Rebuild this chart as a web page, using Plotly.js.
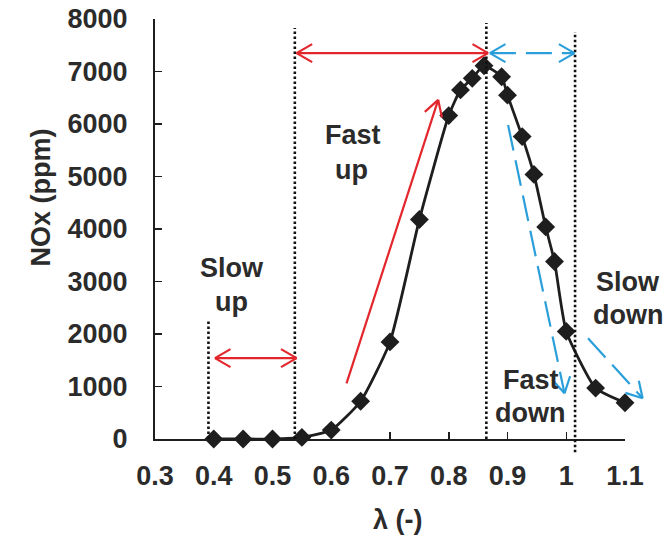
<!DOCTYPE html>
<html><head><meta charset="utf-8">
<script src="https://cdn.plot.ly/plotly-3.0.1.min.js"></script>
<style>html,body{margin:0;padding:0;background:#fff}</style>
</head><body><div id="chart" style="width:669px;height:537px"></div>
<script>
// ---- data ----
const lambda = [0.40, 0.45, 0.50, 0.55, 0.60, 0.65, 0.70, 0.75, 0.80, 0.82, 0.84, 0.86, 0.89, 0.90, 0.925, 0.945, 0.965, 0.98, 1.00, 1.05, 1.10];
const nox    = [0, 0, 0, 30, 170, 720, 1850, 4180, 6160, 6650, 6870, 7110, 6900, 6550, 5760, 5040, 4040, 3380, 2050, 970, 690];
const xTickVals = [0.3, 0.4, 0.5, 0.6, 0.7, 0.8, 0.9, 1.0, 1.1];
const xTickText = ['0.3', '0.4', '0.5', '0.6', '0.7', '0.8', '0.9', '1', '1.1'];
const yTickVals = [0, 1000, 2000, 3000, 4000, 5000, 6000, 7000, 8000];

// vertical dotted guide lines (lambda, NOx from, NOx to)
const guideX      = [0.391, 0.538, 0.864, 1.015];
const guideBottom = [0, 0, 0, -250];
const guideTop    = [2270, 7830, 7924, 7752];

// red arrows: [x from, y from, x to, y to, double headed]
const redArrows = [
  [0.402, 1540, 0.541, 1540, true],
  [0.541, 7350, 0.867, 7350, true],
  [0.626, 1060, 0.782, 6460, false]
];
// blue dashed arrows
const blueArrows = [
  [0.870, 7350, 1.014, 7350, true],
  [0.901, 5980, 0.997, 870, false],
  [1.037, 1920, 1.130, 775, false]
];
// text labels [text, lambda, NOx]
const labels = [
  ['Slow', 0.4305, 3257], ['up', 0.4305, 2615],
  ['Fast', 0.6375, 5790], ['up', 0.634, 5124],
  ['Fast', 0.9405, 1124], ['down', 0.9377, 490],
  ['Slow', 1.105, 2996], ['down', 1.105, 2362]
];

// ---- layout geometry ----
const X0 = 0.3, X1 = 1.1, Y0 = 0, Y1 = 8000;
const W = 470, H = 420;
const fx = x => (x - X0) / (X1 - X0);
const fy = y => (y - Y0) / (Y1 - Y0);

const RED = '#e3262c', BLUE = '#2a9fd9', INK = '#1e1e1e', TXT = '#2b2b2b';
const FONT = 'Liberation Sans, Arial, sans-serif';
const FS = 27;

const shapes = [];
guideX.forEach((gx, i) => {
  shapes.push({type: 'line', xref: 'paper', yref: 'paper',
    x0: fx(gx), x1: fx(gx), y0: fy(guideBottom[i]), y1: fy(guideTop[i]),
    line: {color: '#111111', width: 2.6, dash: '2.5px,2.5px'}});
});

function head(tx, ty, ox, oy, color, width) {
  // open V arrowhead at tip (tx,ty) pointing away from (ox,oy)
  const px = fx(tx) * W, py = fy(ty) * H, qx = fx(ox) * W, qy = fy(oy) * H;
  let dx = qx - px, dy = qy - py; const n = Math.hypot(dx, dy); dx /= n; dy /= n;
  const L = 18, a = 30 * Math.PI / 180;
  [a, -a].forEach(t => {
    const rx = dx * Math.cos(t) - dy * Math.sin(t), ry = dx * Math.sin(t) + dy * Math.cos(t);
    shapes.push({type: 'line', xref: 'paper', yref: 'paper',
      x0: fx(tx), y0: fy(ty), x1: (px + rx * L) / W, y1: (py + ry * L) / H,
      line: {color: color, width: width}});
  });
}
function arrow(a, color, dash) {
  const [x0, y0, x1, y1, dbl] = a;
  shapes.push({type: 'line', xref: 'paper', yref: 'paper',
    x0: fx(x0), y0: fy(y0), x1: fx(x1), y1: fy(y1),
    line: {color: color, width: 2.2, dash: dash}});
  head(x1, y1, x0, y0, color, 2.2);
  if (dbl) head(x0, y0, x1, y1, color, 2.2);
}
redArrows.forEach(a => arrow(a, RED, 'solid'));
blueArrows.forEach(a => arrow(a, BLUE, '26px,10px'));

const annotations = labels.map(l => ({
  text: '<b>' + l[0] + '</b>', xref: 'paper', yref: 'paper', x: fx(l[1]), y: fy(l[2]),
  xanchor: 'center', yanchor: 'middle', showarrow: false,
  font: {family: FONT, size: FS, color: TXT}
}));
annotations.push({text: '<b>NOx (ppm)</b>', textangle: -90, xref: 'paper', yref: 'paper',
  x: (40.5 - 155) / W, y: (439 - 198) / H, xanchor: 'center', yanchor: 'middle', showarrow: false,
  font: {family: FONT, size: FS, color: TXT}});
annotations.push({text: '<b>λ (-)</b>', xref: 'paper', yref: 'paper',
  x: (398.3 - 155) / W, y: (439 - 520) / H, xanchor: 'center', yanchor: 'middle', showarrow: false,
  font: {family: FONT, size: FS, color: TXT}});

const trace = {
  x: lambda, y: nox, type: 'scatter', mode: 'lines+markers',
  line: {color: INK, width: 2.8, shape: 'spline', smoothing: 0.5},
  marker: {symbol: 'diamond', size: 14.5, color: INK},
  cliponaxis: false, hoverinfo: 'skip'
};

const axisCommon = {
  showgrid: false, zeroline: false, showline: true, linecolor: INK, linewidth: 2,
  ticks: 'inside', ticklen: 7, tickwidth: 1.5, tickcolor: INK,
  tickfont: {family: FONT, size: FS, color: TXT, weight: 'bold'},
  fixedrange: true
};

const layout = {
  width: 669, height: 537,
  margin: {l: 155, r: 44, t: 19, b: 98},
  paper_bgcolor: '#ffffff', plot_bgcolor: '#ffffff',
  showlegend: false,
  xaxis: Object.assign({}, axisCommon, {range: [X0, X1], tickmode: 'array', tickvals: xTickVals, ticktext: xTickText, ticklabelstandoff: 12}),
  yaxis: Object.assign({}, axisCommon, {range: [Y0, Y1], tickmode: 'array', tickvals: yTickVals, ticklabelstandoff: 20}),
  shapes: shapes,
  annotations: annotations
};

Plotly.newPlot('chart', [trace], layout, {staticPlot: true, displayModeBar: false});
</script>
</body></html>
